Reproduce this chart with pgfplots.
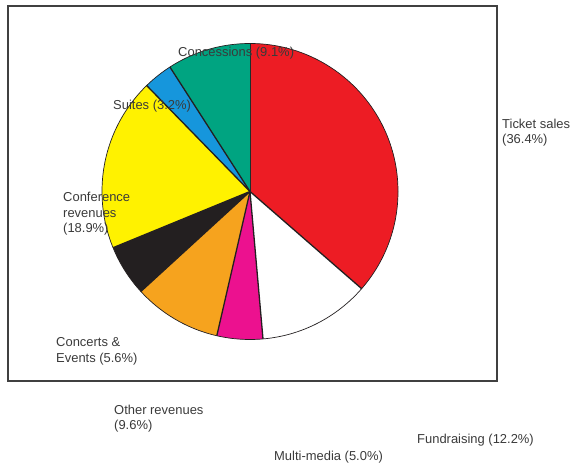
\documentclass[border=0pt]{standalone}
\usepackage{fontspec}
\setmainfont{Liberation Sans}
\usepackage{pgfplots}
\pgfplotsset{compat=1.18}

\definecolor{tred}{HTML}{ED1C24}
\definecolor{tmag}{HTML}{EC118F}
\definecolor{torange}{HTML}{F6A31E}
\definecolor{tblack}{HTML}{231F20}
\definecolor{tyellow}{HTML}{FFF200}
\definecolor{tblue}{HTML}{1696DC}
\definecolor{tgreen}{HTML}{00A481}
\definecolor{txt}{HTML}{3A3A3A}

\tikzset{lbl/.style={font=\fontsize{13}{16}\selectfont, text=txt, inner sep=0pt, anchor=base west}}

% slice: cumulative start (%), share (%), colour
\newcommand{\slice}[3]{%
  \fill[#3] (axis cs:250,275.5) -- ++({90-3.6*#1}:148bp)
    arc[start angle={90-3.6*#1}, delta angle={-3.6*#2}, radius=148bp] -- cycle;
  \draw[line width=1.3bp, tblack] (axis cs:250,275.5) -- ++({90-3.6*#1}:148bp);
}

\begin{document}
\begin{tikzpicture}
\begin{axis}[
    x=1bp, y=1bp,
    xmin=0, xmax=572, ymin=0, ymax=467,
    hide axis, clip=false,
]
\path (axis cs:0,0) rectangle (axis cs:572,467);
% frame
\draw[line width=1.3bp, black!75] (axis cs:8,461) rectangle (axis cs:497,86);
% slices (clockwise from the top)
\slice{0}{36.4}{tred}
\slice{36.4}{12.2}{white}
\slice{48.6}{5.0}{tmag}
\slice{53.6}{9.6}{torange}
\slice{63.2}{5.6}{tblack}
\slice{68.8}{18.9}{tyellow}
\slice{87.7}{3.2}{tblue}
\slice{90.9}{9.1}{tgreen}
\draw[line width=0.7bp, tblack] (axis cs:250,275.5) circle[radius=148bp];
% labels
\node[lbl] at (axis cs:502,338.5) {Ticket sales};
\node[lbl] at (axis cs:502,323) {(36.4\%)};
\node[lbl] at (axis cs:178,410) {Concessions (9.1\%)};
\node[lbl] at (axis cs:113,357) {Suites (3.2\%)};
\node[lbl] at (axis cs:63,265) {Conference};
\node[lbl] at (axis cs:63,249.5) {revenues};
\node[lbl] at (axis cs:63,234) {(18.9\%)};
\node[lbl] at (axis cs:56,120.3) {Concerts \&};
\node[lbl] at (axis cs:56,104.7) {Events (5.6\%)};
\node[lbl] at (axis cs:114,52) {Other revenues};
\node[lbl] at (axis cs:114,37) {(9.6\%)};
\node[lbl] at (axis cs:417,23) {Fundraising (12.2\%)};
\node[lbl] at (axis cs:274,6) {Multi-media (5.0\%)};
\end{axis}
\end{tikzpicture}
\end{document}
